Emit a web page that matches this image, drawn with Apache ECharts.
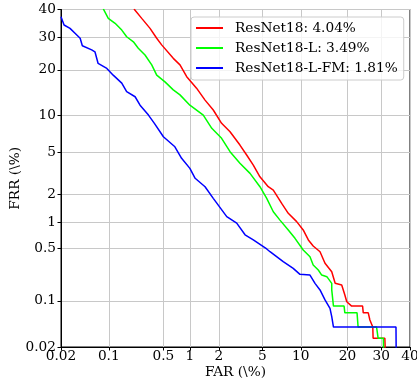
<!DOCTYPE html>
<html><head><meta charset="utf-8">
<script src="https://cdn.jsdelivr.net/npm/echarts@6/dist/echarts.min.js"></script>
<style>html,body{margin:0;padding:0;background:#fff}#c{width:417px;height:385px}</style>
</head><body><div id="c"></div>
<script>
// Tick values (percent) and their labels, shared by both axes
const tickValues = [0.02, 0.1, 0.5, 1, 2, 5, 10, 20, 30, 40];
const tickLabels = ['0.02', '0.1', '0.5', '1', '2', '5', '10', '20', '30', '40'];

const seriesNames = ['ResNet18: 4.04%', 'ResNet18-L: 3.49%', 'ResNet18-L-FM: 1.81%'];
const seriesColors = ['#ff0000', '#00ff00', '#0000ff'];

// ResNet18 (red): FAR %, FRR %
const farRed = [0.217,0.272,0.345,0.416,0.477,0.652,0.777,0.923,1.18,1.45,1.76,2.13,2.57,3.18,3.66,4.19,4.78,5.61,6.17,7.19,8.08,9.33,10.4,11.3,12.2,13.55,14.6,16.1,16.9,18.5,19.3,19.8,21.1,24.2,24.4,25.9,26.4,27.3,27.4,31.2,31.5];
const frrRed = [40.2,36.7,33.1,29.7,27.5,23.3,21.4,18.2,15.4,12.8,10.9,8.66,7.44,5.78,4.74,3.85,2.99,2.39,2.21,1.61,1.26,1.02,0.82,0.625,0.528,0.45,0.322,0.25,0.175,0.166,0.121,0.097,0.084,0.084,0.067,0.067,0.0525,0.041,0.0275,0.0275,0.01];

// ResNet18-L (green)
const farGreen = [0.084,0.0985,0.122,0.150,0.174,0.213,0.246,0.299,0.362,0.416,0.522,0.652,0.777,1.00,1.39,1.70,2.13,2.57,3.18,3.92,4.78,5.45,6.17,6.97,8.08,9.07,10.4,11.6,12.2,13.2,13.9,15.0,16.1,16.1,16.5,19.1,19.3,22.6,22.9,28.5,29.0,30.7,30.9];
const frrGreen = [40.2,36.7,34.9,32.5,30.2,28.5,26.4,24.3,21.4,18.6,16.9,15.0,13.9,11.8,10.0,7.92,6.58,5.07,4.00,3.22,2.39,1.82,1.31,1.06,0.82,0.654,0.472,0.39,0.306,0.263,0.226,0.215,0.175,0.142,0.084,0.084,0.067,0.067,0.041,0.041,0.0275,0.0275,0.01];

// ResNet18-L-FM (blue)
const farBlue = [0.02,0.0223,0.0275,0.0327,0.039,0.042,0.0575,0.064,0.071,0.094,0.115,0.150,0.174,0.224,0.259,0.33,0.39,0.50,0.68,0.81,1.00,1.14,1.45,1.76,2.39,2.97,3.54,4.19,5.45,5.80,7.39,8.80,9.86,11.6,12.55,13.55,14.6,15.7,16.1,16.5,35.0,35.1];
const frrBlue = [37.3,34.3,33.1,31.4,29.7,27.2,25.9,25.3,21.8,20.4,18.6,16.6,14.6,13.5,11.8,10.0,8.66,6.78,5.59,4.43,3.59,2.89,2.39,1.82,1.16,0.98,0.72,0.625,0.486,0.45,0.337,0.277,0.231,0.226,0.175,0.142,0.103,0.078,0.059,0.041,0.041,0.01];

// inverse normal CDF (Acklam) -> DET (normal deviate) scale
function probit(p){
  const a=[-3.969683028665376e+01,2.209460984245205e+02,-2.759285104469687e+02,1.383577518672690e+02,-3.066479806614716e+01,2.506628277459239e+00];
  const b=[-5.447609879822406e+01,1.615858368580409e+02,-1.556989798598866e+02,6.680131188771972e+01,-1.328068155288572e+01];
  const c=[-7.784894002430293e-03,-3.223964580411365e-01,-2.400758277161838e+00,-2.549732539343734e+00,4.374664141464968e+00,2.938163982698783e+00];
  const d=[7.784695709041462e-03,3.224671290700398e-01,2.445134137142996e+00,3.754408661907416e+00];
  const pl=0.02425, ph=1-pl; let q,r;
  if(p<pl){q=Math.sqrt(-2*Math.log(p));return (((((c[0]*q+c[1])*q+c[2])*q+c[3])*q+c[4])*q+c[5])/((((d[0]*q+d[1])*q+d[2])*q+d[3])*q+1);}
  if(p<=ph){q=p-0.5;r=q*q;return (((((a[0]*r+a[1])*r+a[2])*r+a[3])*r+a[4])*r+a[5])*q/(((((b[0]*r+b[1])*r+b[2])*r+b[3])*r+b[4])*r+1);}
  q=Math.sqrt(-2*Math.log(1-p));return -(((((c[0]*q+c[1])*q+c[2])*q+c[3])*q+c[4])*q+c[5])/((((d[0]*q+d[1])*q+d[2])*q+d[3])*q+1);
}
const tickPos = tickValues.map(v => probit(v/100));
function fmt(val){
  let best=0, bd=Infinity;
  tickPos.forEach((t,i)=>{const dd=Math.abs(t-val); if(dd<bd){bd=dd;best=i;}});
  return bd<1e-6 ? tickLabels[best] : '';
}
function toXY(far, frr){ return far.map((f,i)=>[probit(f/100), probit(frr[i]/100)]); }

const FONT = 'DejaVu Serif';
const FS = 13.7;
function axis(name, isX){
  return {
    type:'value', min: tickPos[0], max: tickPos[tickPos.length-1],
    name: name, nameLocation:'middle', nameGap: isX ? 18 : 39, nameMoveOverlap:false,
    nameTextStyle:{fontFamily:FONT, fontSize:FS, color:'#000'},
    axisLine:{show:true, lineStyle:{color:'#000', width:1}},
    axisTick:{show:true, inside:false, length:3.5, customValues: tickPos, lineStyle:{color:'#000', width:1}},
    axisLabel:{customValues: tickPos, formatter: fmt, fontFamily:FONT, fontSize:FS, color:'#000', margin: isX ? 2 : 5, showMinLabel:true, showMaxLabel:true, hideOverlap:false},
    splitLine:{show:true, lineStyle:{color:'#c8c8c8', width:1}}
  };
}
const chart = echarts.init(document.getElementById('c'), null, {renderer:'canvas'});
const datas = [toXY(farRed, frrRed), toXY(farGreen, frrGreen), toXY(farBlue, frrBlue)];
chart.setOption({
  animation:false,
  backgroundColor:'#fff',
  grid:{left:61, right:7, top:9.5, bottom:38, containLabel:false, outerBoundsMode:'none', show:true, borderColor:'#000', borderWidth:1, backgroundColor:'#fff'},
  xAxis: axis('FAR (\\%)', true),
  yAxis: axis('FRR (\\%)', false),
  legend:{
    orient:'vertical', left:191, top:17, align:'left',
    padding:[4,6,5,5], itemGap:6, itemWidth:27, itemHeight:2, icon:'rect',
    backgroundColor:'rgba(255,255,255,0.8)', borderColor:'#cccccc', borderWidth:1, borderRadius:3,
    textStyle:{fontFamily:FONT, fontSize:FS, color:'#000', lineHeight:14, padding:[0,0,0,7]},
    data: seriesNames
  },
  series: seriesNames.map((n,i)=>({
    name:n, type:'line', data: datas[i], showSymbol:false, symbol:'none',
    lineStyle:{color:seriesColors[i], width:1.5}, itemStyle:{color:seriesColors[i]},
    clip:true, z: 2+i
  }))
});
</script>
</body></html>
